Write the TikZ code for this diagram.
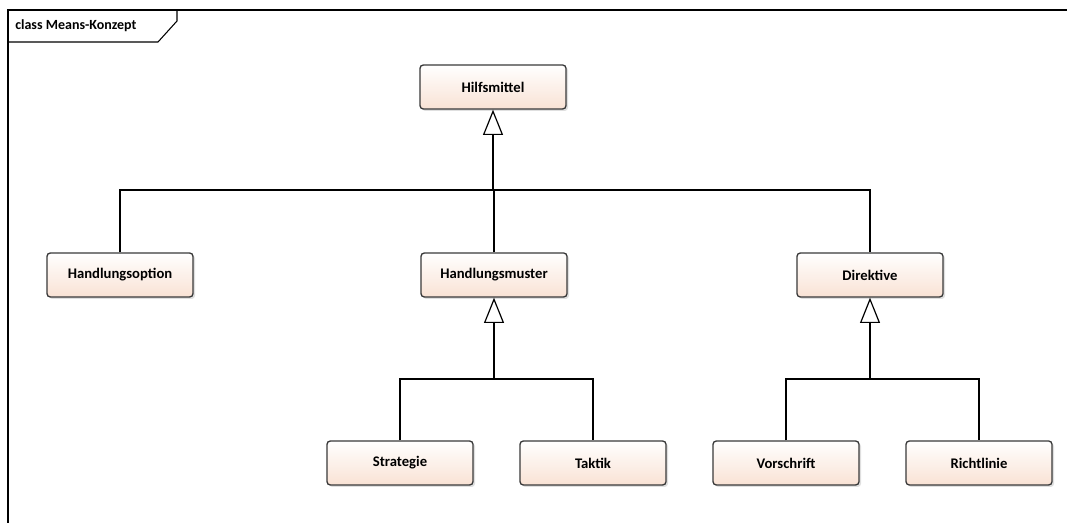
\documentclass[tikz,border=0pt]{standalone}
\usepackage{fontspec}
\setmainfont{Carlito}
\usetikzlibrary{arrows.meta,shadows}
\definecolor{peach}{HTML}{F9E2D4}
\definecolor{edge}{HTML}{3A3A3A}
\tikzset{
  cls/.style={draw=edge, line width=1pt, rounded corners=2.5pt,
    top color=white, bottom color=peach, minimum width=109.5pt, minimum height=33pt,
    inner sep=0pt, font=\fontsize{11}{13}\selectfont\bfseries,
    drop shadow={shadow xshift=1.5pt, shadow yshift=-1.5pt, opacity=0.25, fill=gray}},
  conn/.style={draw=black, line width=0.9pt},
  gen/.style={conn, -{Triangle[open, length=19pt, width=15pt, fill=white]}},
}
\begin{document}
\begin{tikzpicture}[x=0.75pt, y=-0.75pt]
\useasboundingbox (0,0) rectangle (1067,523);
\fill[white] (0,0) rectangle (1067,523);
% frame
\draw[line width=1pt, black] (8,523) -- (8,10) -- (1067,10);
\draw[line width=0.8pt, black] (8,42) -- (158,42) -- (177,21) -- (177,10);
\node[anchor=west, font=\fontsize{10.5}{12}\selectfont\bfseries, inner sep=0pt] (title) at (15,26) {class Means-Konzept};
% classes
\node[cls] (hm) at (493,87) {Hilfsmittel};
\node[cls] (ho) at (120,275) {Handlungsoption};
\node[cls] (hmu) at (494,275) {Handlungsmuster};
\node[cls] (di) at (870,275) {Direktive};
\node[cls] (st) at (400,463) {Strategie};
\node[cls] (ta) at (593,463) {Taktik};
\node[cls] (vo) at (786,463) {Vorschrift};
\node[cls] (ri) at (979,463) {Richtlinie};
% junction coordinates
\coordinate (j1) at (493,190);
\coordinate (j2) at (494,379);
\coordinate (j3) at (870,379);
% generalizations
\draw[conn] (ho.north) |- (j1) -| (di.north);
\draw[conn] (hmu.north) -- (hmu.north |- j1);
\draw[gen] (j1) -- (hm.south);
\draw[conn] (st.north) |- (j2) -| (ta.north);
\draw[gen] (j2) -- (hmu.south);
\draw[conn] (vo.north) |- (j3) -| (ri.north);
\draw[gen] (j3) -- (di.south);
\end{tikzpicture}
\end{document}
